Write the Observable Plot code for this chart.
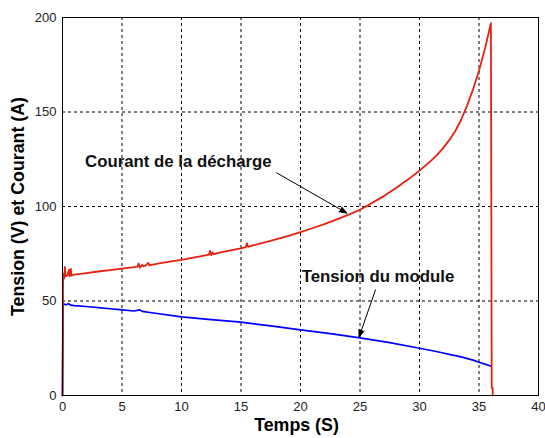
<!DOCTYPE html>
<html>
<head>
<meta charset="utf-8">
<script src="https://cdn.jsdelivr.net/npm/d3@7"></script>
<script src="https://cdn.jsdelivr.net/npm/@observablehq/plot@0.6"></script>
<style>
  html, body { margin: 0; padding: 0; background: #fff; }
  svg { display: block; }
</style>
</head>
<body>
<div id="chart"></div>
<script>
// ---- data ----
const currentTime  = [0, 0.05, 0.1, 0.15, 0.2, 0.25, 0.4, 0.55, 0.6, 0.7, 0.75, 1, 2, 3, 4, 5, 6, 6.3, 6.4, 6.5, 6.7, 6.8, 7, 7.2, 7.3, 8, 9, 10, 11, 12, 12.3, 12.4, 12.5, 12.6, 12.7, 13, 14, 15, 15.4, 15.5, 15.6, 16, 17, 18, 19, 20, 21, 22, 23, 24, 25, 26, 27, 28, 29, 30, 31, 31.5, 32, 32.5, 33, 33.5, 34, 34.5, 35, 35.5, 36, 36.07, 36.15, 36.15];
const currentValue = [0, 60, 64.5, 62, 68, 63, 63.5, 66.5, 63, 67, 63.5, 64, 64.8, 65.6, 66.3, 67.1, 67.9, 68.2, 69.8, 67.6, 69.2, 68.3, 68.8, 70.2, 68.9, 69.8, 70.8, 71.8, 72.9, 74.1, 74.5, 76.5, 74.2, 75.8, 74.7, 75.3, 76.6, 77.9, 78.5, 80.5, 78.6, 79.4, 81, 82.7, 84.5, 86.4, 88.5, 90.7, 93.1, 95.6, 98.3, 101.8, 105.5, 109.6, 114.1, 119, 124.4, 127.5, 131, 135.1, 139.8, 145.9, 153.4, 162, 171.8, 183.5, 197, 4, 4, 0];

const voltageTime  = [0, 0.05, 0.3, 0.5, 0.7, 1, 2, 3, 4, 5, 6, 6.5, 6.7, 7.5, 10, 12.5, 15, 17.5, 20, 22.5, 25, 27.5, 30, 31, 32, 32.5, 33.5, 34.5, 35, 35.5, 36.02];
const voltageValue = [0, 48.5, 48, 48.6, 47.8, 47.6, 47.1, 46.5, 45.9, 45.3, 44.7, 45.3, 44.5, 43.8, 41.6, 40.1, 38.8, 36.8, 34.7, 32.7, 30.5, 28, 25, 23.8, 22.5, 21.8, 20.4, 18.7, 17.6, 16.6, 15.5];

const xTicks = [0, 5, 10, 15, 20, 25, 30, 35, 40];
const yTicks = [0, 50, 100, 150, 200];

const xLabel = "Temps (S)";
const yLabel = "Tension (V) et Courant (A)";

const annotations = [
  {text: "Courant de la décharge", x: 1.9, y: 124},
  {text: "Tension du module", x: 20.1, y: 63}
];
const arrows = [
  {x1: 18.0, y1: 117.8, x2: 23.9, y2: 96.5},
  {x1: 26.3, y1: 55.9, x2: 24.92, y2: 30.8}
];

// ---- build tables ----
const current = currentTime.map((t, i) => ({t, v: currentValue[i]}));
const voltage = voltageTime.map((t, i) => ({t, v: voltageValue[i]}));

const chart = Plot.plot({
  width: 545,
  height: 438,
  marginLeft: 62,
  marginRight: 7,
  marginTop: 17,
  marginBottom: 43,
  style: {fontFamily: "'Liberation Sans', Arial, sans-serif", fontSize: "13px", color: "#000", background: "#fff"},
  x: {domain: [0, 40], label: null},
  y: {domain: [0, 200], label: null},
  marks: [
    Plot.gridX(xTicks.slice(1, -1), {stroke: "#000", strokeOpacity: 1, strokeDasharray: "3,3", strokeWidth: 1}),
    Plot.gridY(yTicks.slice(1, -1), {stroke: "#000", strokeOpacity: 1, strokeDasharray: "3,3", strokeWidth: 1}),
    Plot.axisX(xTicks, {tickSize: 0, tickPadding: 6, fontSize: 13, fill: "#222"}),
    Plot.axisY(yTicks, {tickSize: 0, tickPadding: 6, fontSize: 13, fill: "#222"}),
    Plot.line(voltage, {x: "t", y: "v", stroke: "#0000ff", strokeWidth: 1.7, curve: "linear"}),
    Plot.line(current, {x: "t", y: "v", stroke: "#e82010", strokeWidth: 1.8, curve: "linear"}),
    Plot.frame({stroke: "#000", strokeWidth: 1}),
    Plot.text(annotations, {x: "x", y: "y", text: "text", textAnchor: "start", lineAnchor: "middle", fontSize: 16.8, fontWeight: "bold", fill: "#111"}),
    Plot.arrow(arrows, {x1: "x1", y1: "y1", x2: "x2", y2: "y2", stroke: "#000", fill: "#000", strokeWidth: 1, headLength: 12, headAngle: 40, inset: 0}),
    Plot.text([yLabel], {frameAnchor: "left", textAnchor: "middle", lineAnchor: "middle", dx: -44.5, rotate: -90, fontSize: 17.8, fontWeight: "bold", fill: "#000"}),
    Plot.text([xLabel], {frameAnchor: "bottom", textAnchor: "middle", lineAnchor: "middle", dy: 30, dx: -4, fontSize: 17.8, fontWeight: "bold", fill: "#000"})
  ]
});
document.getElementById("chart").appendChild(chart);
</script>
</body>
</html>
